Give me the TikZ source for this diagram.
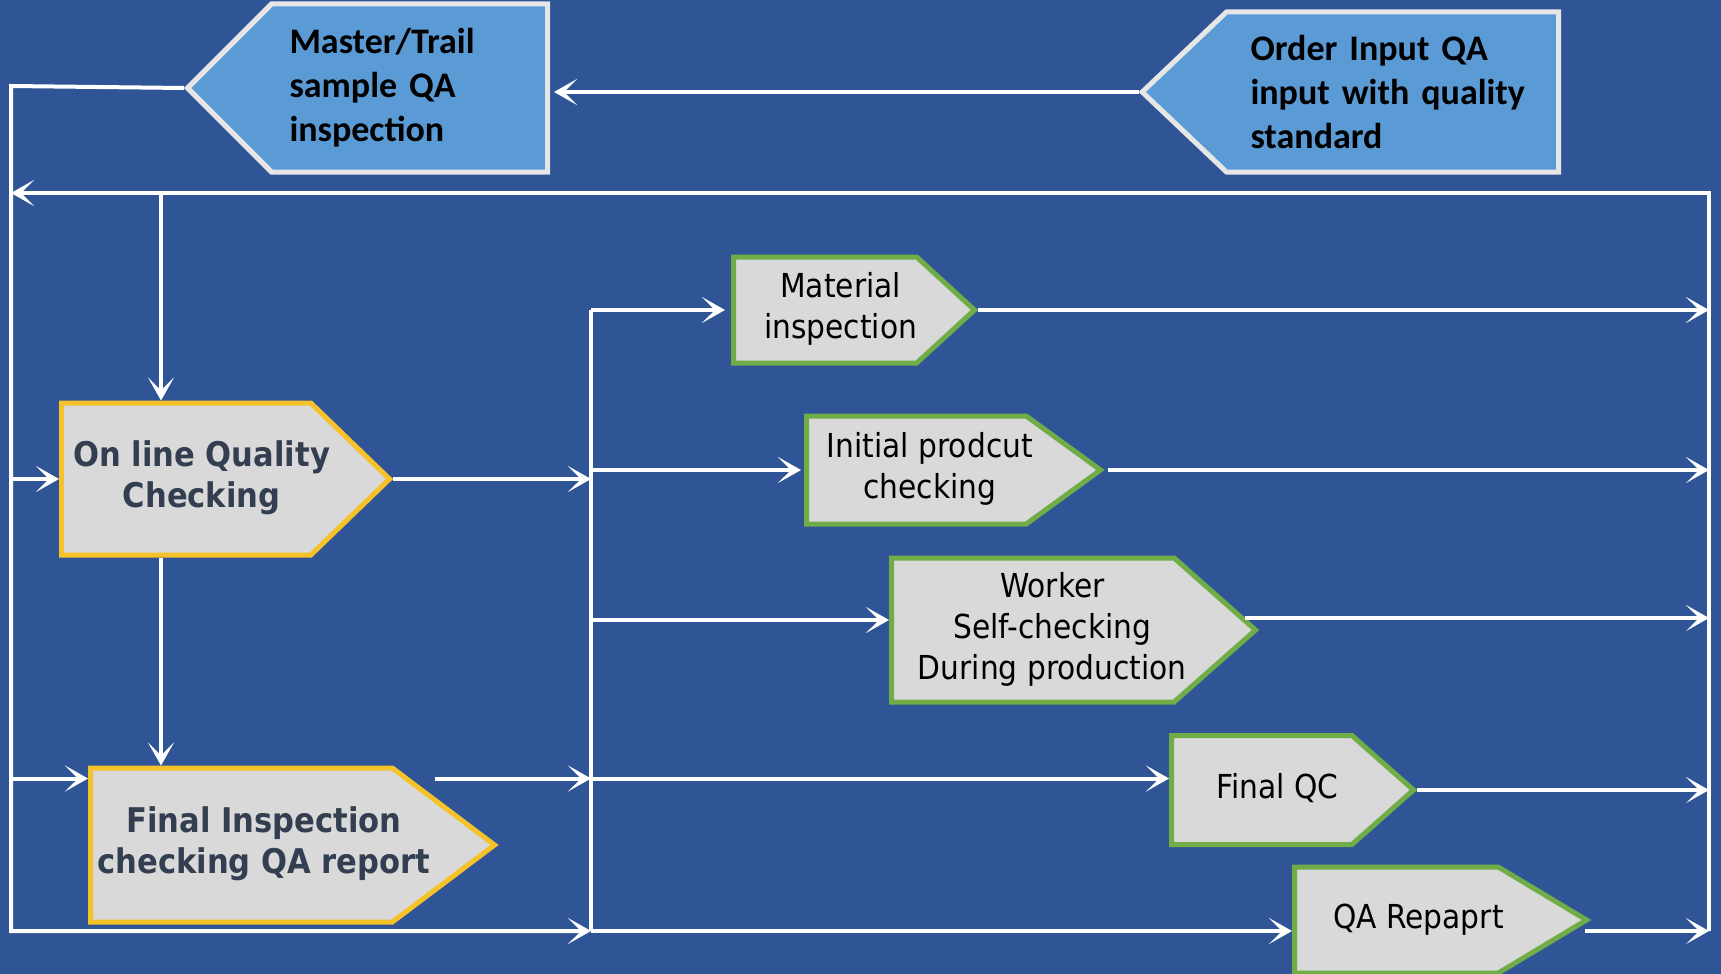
\documentclass[tikz,border=0pt]{standalone}
\usepackage{fontspec}
\usetikzlibrary{shapes.symbols,arrows.meta}
\newfontfamily\tahomaish[FakeStretch=0.9]{DejaVu Sans}
\newfontfamily\calibish{Carlito}
\newcommand{\boxtext}[2][0pt]{\makebox[0pt]{\hspace{#1}\begin{tabular}{@{}c@{}}#2\end{tabular}}}
\begin{document}
\begin{tikzpicture}[x=1pt,y=-1pt,
  wire/.style={white,line width=4pt},
  flow/.style={wire,-{Stealth[length=23pt,width=26pt,inset=13pt]}},
  bluebox/.style={shape=signal,signal to=west,signal from=nowhere,draw=rim,fill=skyblue,line width=5pt,
    text=black,font=\calibish\bfseries\fontsize{36}{44}\selectfont,align=left,anchor=east},
  goldbox/.style={shape=signal,signal to=east,signal from=nowhere,draw=gold,fill=paper,line width=5pt,
    text=slate,font=\tahomaish\bfseries\fontsize{34}{41}\selectfont,inner sep=0pt,anchor=west},
  greenbox/.style={goldbox,draw=leaf,text=black,font=\tahomaish\fontsize{33}{41}\selectfont}]
 \definecolor{bg}{HTML}{2F5597}
 \definecolor{skyblue}{HTML}{5B9BD5}
 \definecolor{rim}{HTML}{E6E6E6}
 \definecolor{paper}{HTML}{D9D9D9}
 \definecolor{gold}{HTML}{F6C229}
 \definecolor{leaf}{HTML}{70AD47}
 \definecolor{slate}{HTML}{333F50}
 \useasboundingbox (0,0) rectangle (1721,974);
 \fill[bg] (0,0) rectangle (1721,974);
 \node[bluebox,minimum height=168pt,text width=240pt,inner xsep=18pt,signal pointer angle=90] (mst) at (550,88) {Master/Trail\\sample QA\\inspection};
 \node[bluebox,minimum height=160pt,text width=284pt,inner xsep=24pt,signal pointer angle=87] (ord) at (1561,92) {Order Input QA\\input with quality\\standard};
 \node[goldbox,minimum width=328pt,minimum height=152pt,signal pointer angle=88] (onl) at (59,479) {\boxtext[31pt]{On line Quality\\Checking}};
 \node[goldbox,minimum width=404pt,minimum height=154pt,signal pointer angle=74] (fin) at (88,845) {\boxtext[45pt]{Final Inspection\\checking QA report}};
 \node[greenbox,minimum width=241pt,minimum height=106pt,signal pointer angle=85] (mat) at (731,310) {\boxtext[31pt]{Material\\inspection}};
 \node[greenbox,minimum width=294pt,minimum height=108pt,signal pointer angle=72] (ini) at (804,470) {\boxtext[27pt]{Initial prodcut\\checking}};
 \node[greenbox,minimum width=364pt,minimum height=144pt,signal pointer angle=83] (wrk) at (889,630) {\boxtext[39pt]{Worker\\Self-checking\\During production}};
 \node[greenbox,minimum width=242pt,minimum height=109pt,signal pointer angle=83] (fqc) at (1169,790) {\boxtext[32pt]{Final QC}};
 \node[greenbox,minimum width=292pt,minimum height=106pt,signal pointer angle=62] (rep) at (1292,920) {\boxtext[44pt]{QA Repaprt}};
 \coordinate (lt) at (11,86);
 \coordinate (lb) at (11,931);
 \coordinate (rt) at (1709,193);
 \coordinate (rb) at (1709,931);
 \coordinate (bt) at (591,310);
 \coordinate (bb) at (591,931);
 \coordinate (finin) at ([yshift=-13pt]fin.north west);
 \coordinate (onlin) at ([xshift=102pt]onl.north west);
 \coordinate (wrkin) at ([yshift=10pt]wrk.west);
 \coordinate (wrkout) at ([xshift=-14pt,yshift=12pt]wrk.east);
 \coordinate (repout) at ([xshift=-6pt,yshift=-11pt]rep.east);
 \path (finin -| fin.east) ++(-64,0) coordinate (finout);
 % left loop and top return
 \draw[flow,shorten >=4pt] (ord.west) -- (mst.east |- ord.west);
 \draw[flow] (mst.west) -- (lt) -- (lb) -- (bb);
 \draw[flow] (lt |- onl.west) -- (onl.west);
 \draw[flow] (lt |- finin) -- (finin);
 \draw[flow] (rb) -- (rt) -- (rt -| lt);
 \draw[flow] (onlin |- rt) -- (onlin);
 \draw[flow] (onlin |- onl.south) -- (onlin |- fin.north);
 \draw[flow] (onl.east) -- (onl.east -| bt);
 \draw[flow] (finout) -- (finout -| bt);
 % bus to the checks
 \draw[wire] (bt) -- (bb);
 \draw[flow,shorten >=6pt] (bt) -- (mat.west);
 \draw[flow,shorten >=3pt] (bt |- ini.west) -- (ini.west);
 \draw[flow] (bt |- wrkin) -- (wrkin);
 \draw[flow] (bt |- finout) -- (finout -| fqc.west);
 \draw[flow] (bb) -- (bb -| rep.west);
 % checks to the right side
 \draw[flow] (mat.east) -- (mat.east -| rt);
 \draw[flow,shorten <=3pt] (ini.east) -- (ini.east -| rt);
 \draw[flow] (wrkout) -- (wrkout -| rt);
 \draw[flow] (fqc.east) -- (fqc.east -| rt);
 \draw[flow] (repout) -- (repout -| rt);
\end{tikzpicture}
\end{document}
